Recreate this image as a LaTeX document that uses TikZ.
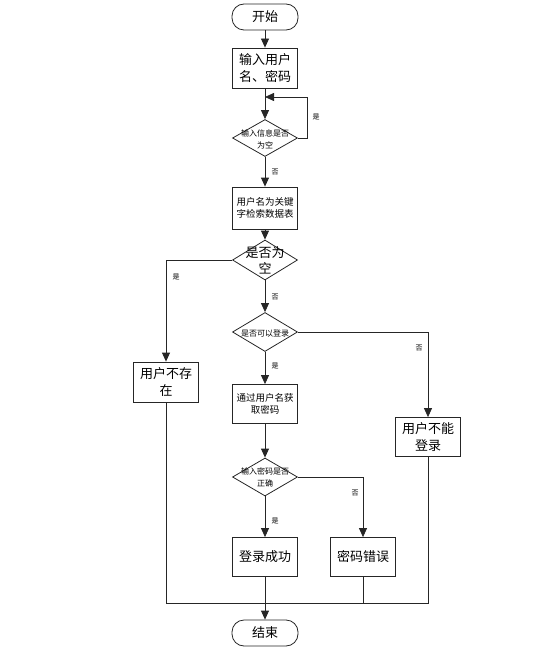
\documentclass[tikz,border=0pt]{standalone}
\usepackage{fontspec}
\newfontfamily\cjk{Noto Sans CJK SC}
\usetikzlibrary{shapes.geometric,arrows.meta}
\begin{document}
\begin{tikzpicture}[x=1pt,y=-1pt,
  line/.style={draw=black!85, line width=0.8pt},
  arr/.style={line, -{Triangle[length=9pt,width=8pt]}},
  proc/.style={draw=black!85, line width=0.8pt, minimum width=65pt, minimum height=40pt, inner sep=1pt, align=center},
  big/.style={font=\cjk\fontsize{13}{17}\selectfont},
  mid/.style={font=\cjk\fontsize{9.5}{12}\selectfont},
  small/.style={font=\cjk\fontsize{8}{12}\selectfont, align=center, inner sep=0pt},
  term/.style={draw=black!85, line width=0.8pt, rounded corners=12pt, minimum width=66pt, minimum height=26pt, inner sep=1pt, big},
  dec/.style={draw=black!85, line width=0.8pt, diamond, minimum width=65pt, inner sep=0pt},
  lab/.style={font=\cjk\fontsize{7}{8}\selectfont, inner sep=0pt}]
\useasboundingbox (0,0) rectangle (558,650);

\node[term] (start) at (265,17) {开始};
\node[proc,big] (b1) at (265,68) {输入用户\\名、密码};
\node[dec, minimum height=37pt] (d1) at (265,138) {};
\node[small] (d1t) at (265,139) {输入信息是否\\为空};
\node[proc,mid, minimum height=42pt] (b2) at (265,208) {用户名为关键\\字检索数据表};
\node[dec, minimum height=40pt] (d2) at (265,260) {};
\node[big, align=center, inner sep=0pt, font=\cjk\fontsize{13}{16}\selectfont] (d2t) at (265,260) {是否为\\空};
\node[dec, minimum height=39pt] (d3) at (265,332) {};
\node[small] (d3t) at (265,333) {是否可以登录};
\node[proc,mid, minimum height=39pt] (getpw) at (265,404) {通过用户名获\\取密码};
\node[proc,big] (nouser) at (166,382) {用户不存\\在};
\node[proc,big, minimum height=39pt] (cant) at (428,437) {用户不能\\登录};
\node[dec, minimum height=38pt] (d4) at (265,477) {};
\node[small] (d4t) at (265,477) {输入密码是否\\正确};
\node[proc,big, minimum height=39pt] (ok) at (265,557) {登录成功};
\node[proc,big, minimum height=39pt] (wrong) at (363,557) {密码错误};
\node[term] (end) at (265,633) {结束};

\coordinate (loopin) at (265,97);
\coordinate (loopr) at (307,138);
\coordinate (m) at (265,603);

\draw[arr] (start) -- (b1);
\draw[line] (b1) -- (loopin);
\draw[arr] (loopin) -- (d1);
\draw[arr] (d1.east) -- (loopr) |- (loopin);
\node[lab] (l1) at (316,117) {是};
\draw[arr] (d1) -- (b2);
\node[lab] (l2) at (275,172) {否};
\draw[arr] (b2) -- (d2);
\draw[arr] (d2.west) -| (nouser);
\node[lab] (l3) at (176,277) {是};
\draw[arr] (d2) -- (d3);
\node[lab] (l4) at (275,297) {否};
\draw[arr] (d3.east) -| (cant);
\node[lab] (l5) at (419,348) {否};
\draw[arr] (d3) -- (getpw);
\node[lab] (l6) at (275,366) {是};
\draw[arr] (getpw) -- (d4);
\draw[arr] (d4.east) -| (wrong);
\node[lab] (l7) at (355,493) {否};
\draw[arr] (d4) -- (ok);
\node[lab] (l8) at (275,521) {是};
\draw[line] (nouser) |- (m);
\draw[line] (cant) |- (m);
\draw[line] (wrong) |- (m);
\draw[arr] (ok) -- (end);
\end{tikzpicture}
\end{document}
